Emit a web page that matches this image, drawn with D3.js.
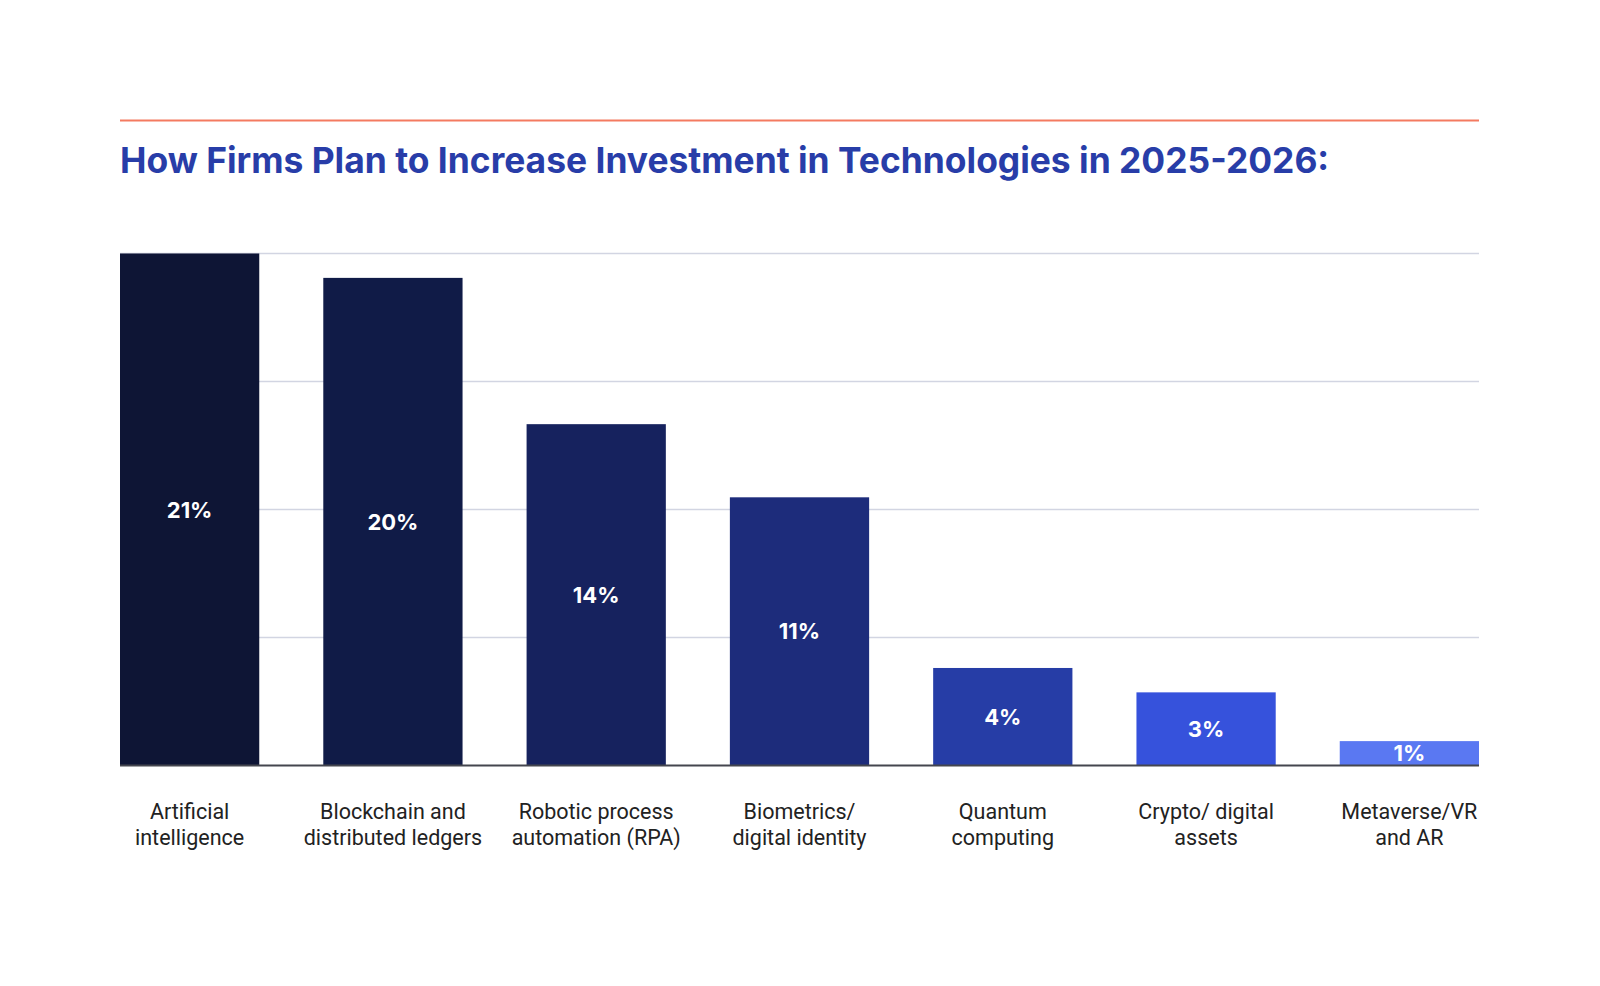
<!DOCTYPE html>
<html lang="en">
<head>
    <meta charset="UTF-8">
    <title>How Firms Plan to Increase Investment in Technologies in 2025-2026</title>
    <script src="https://d3js.org/d3.v7.min.js"></script>
    <style>
        html, body { margin: 0; padding: 0; background: #fff; overflow: hidden; }
        svg { display: block; }
        .title { font-family: Inter, sans-serif; font-weight: 700; fill: #283da8; }
        .cat { font-family: Roboto, sans-serif; font-size: 21.5px; fill: #222; }
        .val { font-family: Inter, sans-serif; font-weight: 700; font-size: 22px; fill: #fff; }
    </style>
</head>
<body>
    <script>
        // data
        const categories = [
            ["Artificial", "intelligence"],
            ["Blockchain and", "distributed ledgers"],
            ["Robotic process", "automation (RPA)"],
            ["Biometrics/", "digital identity"],
            ["Quantum", "computing"],
            ["Crypto/ digital", "assets"],
            ["Metaverse/VR", "and AR"]
        ];
        const values = [21, 20, 14, 11, 4, 3, 1];
        const barColors = ["#0e1535", "#101b47", "#16225e", "#1d2c7b", "#263da6", "#3652dc", "#5a78f2"];

        const width = 1600, height = 986;
        const plotLeft = 120, plotRight = 1479, plotTop = 253.5, plotBottom = 765.5;

        const svg = d3.select("body").append("svg")
            .attr("width", width)
            .attr("height", height);

        // red rule + title
        svg.append("line")
            .attr("x1", plotLeft).attr("x2", plotRight)
            .attr("y1", 120.5).attr("y2", 120.5)
            .attr("stroke", "#f47a60").attr("stroke-width", 2);

        svg.append("text")
            .attr("class", "title")
            .attr("x", plotLeft).attr("y", 172.5)
            .attr("font-size", 35.4)
            .text("How Firms Plan to Increase Investment in Technologies in 2025-2026:");

        const x = d3.scaleBand()
            .domain(d3.range(values.length))
            .range([plotLeft, plotRight])
            .paddingInner(0.315)
            .paddingOuter(0);

        const y = d3.scaleLinear()
            .domain([0, 21])
            .range([plotBottom, plotTop]);

        // gridlines every quarter of the range
        const gridTicks = d3.range(1, 5).map(i => i * 21 / 4);
        svg.append("g")
            .selectAll("line")
            .data(gridTicks)
            .join("line")
            .attr("x1", plotLeft).attr("x2", plotRight)
            .attr("y1", d => y(d))
            .attr("y2", d => y(d))
            .attr("stroke", "#d2d5e2").attr("stroke-width", 1.5);

        // bars
        svg.append("g")
            .selectAll("rect")
            .data(values)
            .join("rect")
            .attr("x", (d, i) => x(i))
            .attr("y", d => y(d))
            .attr("width", x.bandwidth())
            .attr("height", d => y(0) - y(d))
            .attr("fill", (d, i) => barColors[i]);

        // baseline
        svg.append("line")
            .attr("x1", plotLeft).attr("x2", plotRight)
            .attr("y1", plotBottom).attr("y2", plotBottom)
            .attr("stroke", "#44464f").attr("stroke-width", 2);

        // value labels in the middle of each bar
        svg.append("g")
            .selectAll("text")
            .data(values)
            .join("text")
            .attr("class", "val")
            .attr("x", (d, i) => x(i) + x.bandwidth() / 2)
            .attr("y", d => (y(d) + y(0)) / 2 + 8)
            .attr("text-anchor", "middle")
            .text(d => d + "%");

        // category labels, two lines each
        const cats = svg.append("g")
            .selectAll("text")
            .data(categories)
            .join("text")
            .attr("class", "cat")
            .attr("text-anchor", "middle")
            .attr("x", (d, i) => x(i) + x.bandwidth() / 2)
            .attr("y", 819);

        cats.selectAll("tspan")
            .data(d => d)
            .join("tspan")
            .attr("x", function() { return this.parentNode.getAttribute("x"); })
            .attr("dy", (d, i) => i === 0 ? 0 : 26)
            .text(d => d);
    </script>
</body>
</html>
